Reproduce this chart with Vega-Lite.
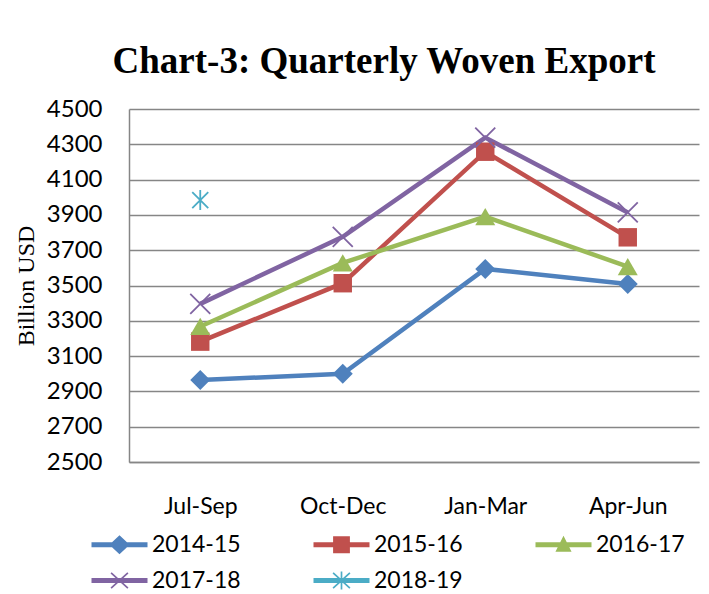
{
  "$schema": "https://vega.github.io/schema/vega-lite/v6.json",
  "width": 570,
  "height": 353,
  "autosize": {"type": "none"},
  "padding": {"left": 129, "top": 109, "right": 10, "bottom": 132},
  "background": "white",
  "config": {"view": {"stroke": null}, "font": "Lato"},
  "title": {
    "text": "Chart-3: Quarterly Woven Export",
    "font": "Liberation Serif",
    "fontSize": 37,
    "fontWeight": "bold",
    "color": "black",
    "anchor": "middle",
    "frame": "group",
    "baseline": "alphabetic",
    "offset": 36,
    "dx": -30,
    "dy": 49
  },
  "data": {
    "values": [
      {"series": "2014-15", "quarter": "Jul-Sep", "value": 2964},
      {"series": "2014-15", "quarter": "Oct-Dec", "value": 3000},
      {"series": "2014-15", "quarter": "Jan-Mar", "value": 3594},
      {"series": "2014-15", "quarter": "Apr-Jun", "value": 3508},
      {"series": "2015-16", "quarter": "Jul-Sep", "value": 3182},
      {"series": "2015-16", "quarter": "Oct-Dec", "value": 3513},
      {"series": "2015-16", "quarter": "Jan-Mar", "value": 4258},
      {"series": "2015-16", "quarter": "Apr-Jun", "value": 3773},
      {"series": "2016-17", "quarter": "Jul-Sep", "value": 3268},
      {"series": "2016-17", "quarter": "Oct-Dec", "value": 3628},
      {"series": "2016-17", "quarter": "Jan-Mar", "value": 3890},
      {"series": "2016-17", "quarter": "Apr-Jun", "value": 3607},
      {"series": "2017-18", "quarter": "Jul-Sep", "value": 3396},
      {"series": "2017-18", "quarter": "Oct-Dec", "value": 3776},
      {"series": "2017-18", "quarter": "Jan-Mar", "value": 4338},
      {"series": "2017-18", "quarter": "Apr-Jun", "value": 3914},
      {"series": "2018-19", "quarter": "Jul-Sep", "value": 3984}
    ]
  },
  "encoding": {
    "x": {
      "field": "quarter",
      "type": "ordinal",
      "sort": ["Jul-Sep", "Oct-Dec", "Jan-Mar", "Apr-Jun"],
      "scale": {"type": "point", "padding": 0.5},
      "axis": {
        "title": null,
        "labelAngle": 0,
        "labelFont": "Lato",
        "labelFontSize": 23,
        "labelColor": "black",
        "ticks": false,
        "tickSize": 0,
        "labelPadding": 51,
        "labelBaseline": "alphabetic",
        "domainColor": "#868686",
        "domainWidth": 1.5,
        "grid": false
      }
    },
    "y": {
      "field": "value",
      "type": "quantitative",
      "scale": {"domain": [2500, 4500], "nice": false, "zero": false},
      "axis": {
        "values": [2500, 2700, 2900, 3100, 3300, 3500, 3700, 3900, 4100, 4300, 4500],
        "format": "d",
        "title": "Billion USD",
        "titleFont": "Liberation Serif",
        "titleFontSize": 24,
        "titleFontWeight": "normal",
        "titleColor": "black",
        "titlePadding": 8,
        "labelFont": "Lato",
        "labelFontSize": 24,
        "labelColor": "black",
        "labelPadding": 27,
        "labelOverlap": false,
        "ticks": false,
        "tickSize": 0,
        "domainColor": "#868686",
        "domainWidth": 1.5,
        "grid": true,
        "gridColor": "#868686",
        "gridWidth": 1.5
      }
    }
  },
  "layer": [
    {
      "mark": {"type": "point", "filled": true, "opacity": 1, "size": 0},
      "encoding": {
        "color": {
          "field": "series",
          "type": "nominal",
          "scale": {
            "domain": ["2014-15", "2015-16", "2016-17", "2017-18", "2018-19"],
            "range": ["#4F81BD", "#C0504D", "#9BBB59", "#8064A2", "#4BACC6"]
          },
          "legend": {
            "orient": "none",
            "legendX": -42,
            "legendY": 424,
            "direction": "horizontal",
            "columns": 3,
            "title": null,
            "padding": 0,
            "symbolSize": 196,
            "symbolStrokeWidth": 0,
            "symbolOpacity": 1,
            "labelFont": "Lato",
            "labelFontSize": 23,
            "labelColor": "black",
            "labelOffset": 42,
            "labelLimit": 200,
            "columnPadding": 68,
            "rowPadding": 12,
            "gridAlign": "all"
          }
        },
        "shape": {
          "field": "series",
          "type": "nominal",
          "scale": {
            "domain": ["2014-15", "2015-16", "2016-17", "2017-18", "2018-19"],
            "range": [
              "M-1,-0.36V0.36H7V-0.36Z M1.55,0L3,1.35L4.45,0L3,-1.35Z",
              "M-1,-0.36V0.36H7V-0.36Z M1.8,-1.2V1.2H4.2V-1.2Z",
              "M-1,-0.36V0.36H7V-0.36Z M3,-1.3L1.85,1L4.15,1Z",
              "M-1,-0.36V0.36H7V-0.36Z M1.719,-1.012L4.119,1.188L4.281,1.012L1.881,-1.188Z M1.881,1.188L4.281,-1.012L4.119,-1.188L1.719,1.012Z",
              "M-1,-0.36V0.36H7V-0.36Z M1.719,-1.012L4.119,1.188L4.281,1.012L1.881,-1.188Z M1.881,1.188L4.281,-1.012L4.119,-1.188L1.719,1.012Z M2.88,-1.3L2.88,1.3L3.12,1.3L3.12,-1.3Z"
            ]
          },
          "legend": {
            "orient": "none",
            "legendX": -42,
            "legendY": 424,
            "direction": "horizontal",
            "columns": 3,
            "title": null,
            "padding": 0,
            "symbolSize": 196,
            "symbolStrokeWidth": 0,
            "symbolOpacity": 1,
            "labelFont": "Lato",
            "labelFontSize": 23,
            "labelColor": "black",
            "labelOffset": 42,
            "labelLimit": 200,
            "columnPadding": 68,
            "rowPadding": 12,
            "gridAlign": "all"
          }
        }
      }
    },
    {
      "mark": {"type": "line", "strokeWidth": 4.5},
      "encoding": {
        "stroke": {
          "field": "series",
          "type": "nominal",
          "scale": {
            "domain": ["2014-15", "2015-16", "2016-17", "2017-18", "2018-19"],
            "range": ["#4F81BD", "#C0504D", "#9BBB59", "#8064A2", "#4BACC6"]
          },
          "legend": null
        }
      }
    },
    {
      "transform": [{"filter": {"field": "series", "equal": "2014-15"}}],
      "mark": {"type": "point", "shape": "diamond", "filled": true, "size": 400, "opacity": 1, "color": "#4F81BD"}
    },
    {
      "transform": [{"filter": {"field": "series", "equal": "2015-16"}}],
      "mark": {"type": "point", "shape": "square", "filled": true, "size": 340, "opacity": 1, "color": "#C0504D"}
    },
    {
      "transform": [{"filter": {"field": "series", "equal": "2016-17"}}],
      "mark": {"type": "point", "shape": "triangle-up", "filled": true, "size": 400, "opacity": 1, "color": "#9BBB59"}
    },
    {
      "transform": [{"filter": {"field": "series", "equal": "2017-18"}}],
      "mark": {"type": "point", "shape": "M-1,-1L1,1M-1,1L1,-1", "filled": false, "size": 400, "strokeWidth": 1.8, "opacity": 1, "color": "#8064A2"}
    },
    {
      "transform": [{"filter": {"field": "series", "equal": "2018-19"}}],
      "mark": {"type": "point", "shape": "M-0.8,-0.8L0.8,0.8M-0.8,0.8L0.8,-0.8M0,-1L0,1", "filled": false, "size": 400, "strokeWidth": 1.8, "opacity": 1, "color": "#4BACC6"}
    }
  ]
}
